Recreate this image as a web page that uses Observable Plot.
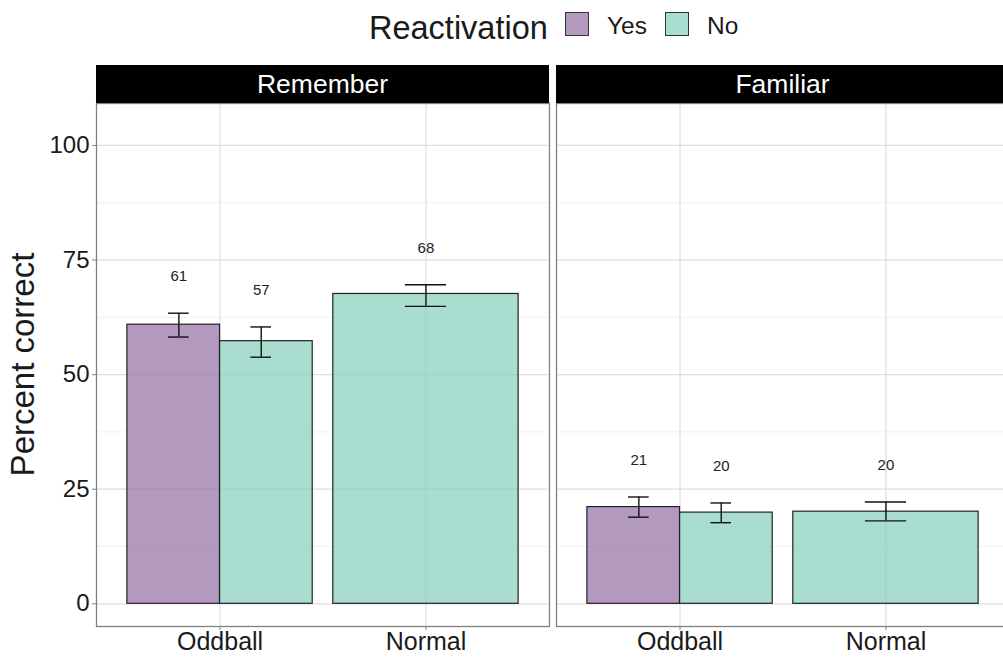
<!DOCTYPE html>
<html>
<head>
<meta charset="utf-8">
<script src="https://cdn.jsdelivr.net/npm/d3@7"></script>
<script src="https://cdn.jsdelivr.net/npm/@observablehq/plot@0.6"></script>
<style>
  html, body { margin: 0; padding: 0; background: #fff; overflow: hidden; }
  #wrap { position: relative; width: 1003px; height: 659px; overflow: hidden;
          font-family: "Liberation Sans", Arial, sans-serif; color: #1a1a1a; }
  #legend { position: absolute; left: 0; top: 0; width: 1003px; height: 65px; }
  #legend .title { position: absolute; left: 369px; top: 10px; font-size: 32.5px; }
  #legend .key { position: absolute; top: 12px; width: 24px; height: 24px; box-sizing: border-box;
                 border: 1.3px solid #333; }
  #legend .lab { position: absolute; top: 12px; font-size: 24.5px; }
  #chart { position: absolute; left: 0; top: 65px; width: 1012px; }
  #chart svg { max-width: none !important; }
</style>
</head>
<body>
<div id="wrap">
  <div id="legend"></div>
  <div id="chart"></div>
</div>
<script>
// Facets, x categories and fill groups
const panels = ["Remember", "Familiar"];
const conditions = ["Oddball", "Normal"];
const reactivation = ["Yes", "No"];
const groupColors = ["#946da2", "#83cebc"];

// One row per bar: panel, condition, reactivation group, mean and error-bar limits (percent correct)
const rowPanel = ["Remember", "Remember", "Remember", "Familiar", "Familiar", "Familiar"];
const rowCondition = ["Oddball", "Oddball", "Normal", "Oddball", "Oddball", "Normal"];
const rowReactivation = ["Yes", "No", "No", "Yes", "No", "No"];
const meanPct = [60.9, 57.3, 67.6, 21.1, 19.9, 20.1];
const errLow = [58.2, 53.8, 64.9, 18.9, 17.7, 18.1];
const errHigh = [63.4, 60.4, 69.6, 23.3, 22.0, 22.2];

// Axis ticks
const yTicks = [0, 25, 50, 75, 100];
const yMinorTicks = [12.5, 37.5, 62.5, 87.5];

// Bar geometry in category units (ggplot-style dodge)
const barWidth = 0.9;
const dodgeWidth = 0.8;
const fillOpacity = 0.7;

const rows = meanPct.map((m, i) => {
  const panel = rowPanel[i], condition = rowCondition[i], group = rowReactivation[i];
  const n = rowPanel.filter((p, j) => p === panel && rowCondition[j] === condition).length;
  const center = conditions.indexOf(condition) + 1;
  const k = n > 1 ? reactivation.indexOf(group) : 0;
  const w = barWidth / n;
  const barCenter = n > 1 ? center - barWidth / 2 + w * (k + 0.5) : center;
  const errCenter = n > 1 ? center - dodgeWidth / 4 + (dodgeWidth / 2) * k : center;
  const whisker = n > 1 ? 0.05 : 0.1;
  return {
    panel, condition, group, mean: m, lo: errLow[i], hi: errHigh[i],
    x1: barCenter - w / 2, x2: barCenter + w / 2,
    ex: errCenter, ex1: errCenter - whisker, ex2: errCenter + whisker
  };
});

const fontFamily = '"Liberation Sans", Arial, sans-serif';
const W = 1012, H = 594, mTop = 38, mBottom = 33;

const plot = Plot.plot({
  width: W,
  height: H,
  marginLeft: 96,
  marginRight: 3,
  marginTop: mTop,
  marginBottom: mBottom,
  style: { fontFamily, background: "white", color: "#1a1a1a", overflow: "visible", maxWidth: "none" },
  fx: { domain: panels, axis: null, paddingInner: 0.0152, paddingOuter: 0, round: false },
  x: { domain: [0.4, 2.6], axis: null },
  y: { domain: [-4.95, 109.15], axis: null },
  color: { domain: reactivation, range: groupColors },
  marks: [
    // panel grid
    Plot.ruleY(yMinorTicks, { stroke: "#f1f1f1", strokeWidth: 1 }),
    Plot.ruleY(yTicks, { stroke: "#dedede", strokeWidth: 1.2 }),
    Plot.ruleX([1, 2], { stroke: "#dedede", strokeWidth: 1.2 }),
    // bars
    Plot.rectY(rows, {
      fx: "panel", x1: "x1", x2: "x2", y1: 0, y2: "mean",
      fill: "group", fillOpacity, stroke: "#222", strokeWidth: 1.2
    }),
    // error bars
    Plot.ruleX(rows, { fx: "panel", x: "ex", y1: "lo", y2: "hi", stroke: "#111", strokeWidth: 1.4 }),
    Plot.ruleY(rows, { fx: "panel", y: "lo", x1: "ex1", x2: "ex2", stroke: "#111", strokeWidth: 1.4 }),
    Plot.ruleY(rows, { fx: "panel", y: "hi", x1: "ex1", x2: "ex2", stroke: "#111", strokeWidth: 1.4 }),
    // value labels
    Plot.text(rows, {
      fx: "panel", x: "ex", y: "hi", text: d => String(Math.round(d.mean)),
      dy: -37, fontSize: 15, fill: "#222", lineAnchor: "middle"
    }),
    // panel border
    Plot.frame({ stroke: "#808080", strokeWidth: 1.3 }),
    // axes
    Plot.axisY({ ticks: yTicks, tickSize: 4, text: null, stroke: "#808080", label: null }),
    Plot.axisY({ ticks: yTicks, tickSize: 0, tickPadding: 7, fontSize: 24, fill: "#1a1a1a", label: null }),
    Plot.axisX({ ticks: [1, 2], tickSize: 4, text: null, stroke: "#808080", label: null }),
    Plot.axisX({
      ticks: [1, 2], tickSize: 0, tickPadding: 6, fontSize: 25, fill: "#1a1a1a", label: null,
      tickFormat: d => conditions[d - 1]
    })
  ]
});
plot.style.maxWidth = "none";

// Facet strips and y-axis title
const svg = d3.select(plot);
const fx = plot.scale("fx");
const stripTop = 0, stripHeight = mTop;
const strips = svg.append("g");
panels.forEach(p => {
  const x0 = fx.apply(p);
  strips.append("rect")
    .attr("x", x0).attr("y", stripTop)
    .attr("width", fx.bandwidth).attr("height", stripHeight)
    .attr("fill", "#000");
  strips.append("text")
    .attr("x", x0 + fx.bandwidth / 2).attr("y", stripTop + stripHeight / 2)
    .attr("text-anchor", "middle").attr("dy", "0.35em")
    .attr("fill", "#fff").attr("font-size", 26.5).attr("font-family", fontFamily)
    .text(p);
});
svg.append("text")
  .attr("transform", `translate(22.5, ${mTop + (H - mTop - mBottom) / 2}) rotate(-90)`)
  .attr("text-anchor", "middle").attr("dy", "0.35em")
  .attr("font-size", 33).attr("font-family", fontFamily).attr("fill", "#1a1a1a")
  .text("Percent correct");

document.getElementById("chart").appendChild(plot);

// Legend
const legend = d3.select("#legend");
legend.append("div").attr("class", "title").text("Reactivation");
const keyLeft = [565, 665];
const labLeft = [607, 707];
reactivation.forEach((g, i) => {
  const c = d3.color(groupColors[i]);
  c.opacity = fillOpacity;
  legend.append("div").attr("class", "key")
    .style("left", keyLeft[i] + "px").style("background", c.formatRgb());
  legend.append("div").attr("class", "lab").style("left", labLeft[i] + "px").text(g);
});
</script>
</body>
</html>
